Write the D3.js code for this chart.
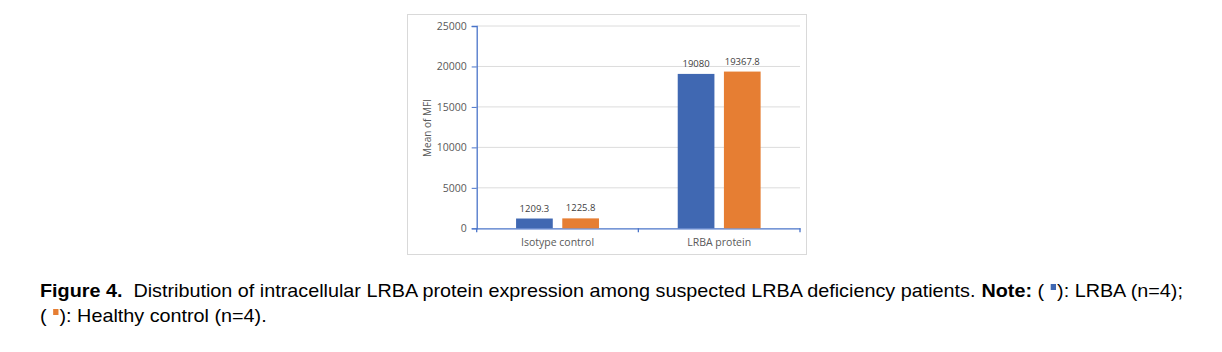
<!DOCTYPE html>
<html>
<head>
<meta charset="utf-8">
<script src="https://cdn.jsdelivr.net/npm/d3@7"></script>
<style>
  body { margin: 0; background: #fff; }
</style>
</head>
<body>
<div id="chart"></div>
<script>
var W = 1222, H = 352;

// data
var categories = ["Isotype control", "LRBA protein"];
var seriesNames = ["LRBA", "Healthy control"];
var lrbaValues = [1209.3, 19080];
var healthyValues = [1225.8, 19367.8];
var valueLabels = [["1209.3", "1225.8"], ["19080", "19367.8"]];
var yTicks = [0, 5000, 10000, 15000, 20000, 25000];
var colors = ["#4068B2", "#E67E33"];

var svg = d3.select("#chart").append("svg")
    .attr("width", W)
    .attr("height", H);

// outer chart frame
svg.append("rect")
    .attr("x", 407.5).attr("y", 14.5)
    .attr("width", 399).attr("height", 240)
    .attr("fill", "#fff")
    .attr("stroke", "#d9d9d9");

var x0 = d3.scaleBand().domain(categories).range([476.7, 800]).paddingInner(0).paddingOuter(0);
var y = d3.scaleLinear().domain([0, 25000]).range([228.3, 26]);
var barW = 36.7, gap = 9.5;
var chartFont = "'Open Sans', sans-serif";

// gridlines
svg.append("g").selectAll("line")
    .data(yTicks.filter(d => d > 0))
    .enter().append("line")
    .attr("x1", 476.7).attr("x2", 800)
    .attr("y1", d => y(d)).attr("y2", d => y(d))
    .attr("stroke", "#dcdcdc").attr("stroke-width", 1);

// y axis
var yAxis = svg.append("g")
    .attr("transform", "translate(476.7,0)")
    .call(d3.axisLeft(y).tickValues(yTicks).tickSize(5).tickPadding(5).tickFormat(d3.format("d")));
yAxis.select(".domain").attr("stroke", "#4A74C9").attr("stroke-width", 1.3);
yAxis.selectAll(".tick line").attr("stroke", "#4A74C9");
yAxis.selectAll("text")
    .attr("fill", "#595959")
    .style("font-family", chartFont)
    .style("font-size", "10.5px");

// x axis
var xAxis = svg.append("g")
    .attr("transform", "translate(0," + y(0) + ")")
    .call(d3.axisBottom(x0).tickSize(0).tickPadding(10));
xAxis.select(".domain").attr("stroke", "#4A74C9").attr("stroke-width", 1.3);
xAxis.selectAll("text")
    .attr("fill", "#595959")
    .style("font-family", chartFont)
    .style("font-size", "10.5px");
svg.append("g").selectAll("line")
    .data([0, 1, 2])
    .enter().append("line")
    .attr("x1", d => x0.range()[0] + d * x0.bandwidth())
    .attr("x2", d => x0.range()[0] + d * x0.bandwidth())
    .attr("y1", y(0)).attr("y2", y(0) + 4)
    .attr("stroke", "#4A74C9").attr("stroke-width", 1.3);

// bars
var barData = [];
categories.forEach(function (c, i) {
    [lrbaValues[i], healthyValues[i]].forEach(function (v, s) {
        barData.push({ cat: c, s: s, v: v, label: valueLabels[i][s] });
    });
});
function barX(d) {
    var center = x0(d.cat) + x0.bandwidth() / 2;
    return d.s == 0 ? center - gap / 2 - barW : center + gap / 2;
}
svg.append("g").selectAll("rect")
    .data(barData)
    .enter().append("rect")
    .attr("x", barX)
    .attr("y", d => y(d.v))
    .attr("width", barW)
    .attr("height", d => y(0) - y(d.v))
    .attr("fill", d => colors[d.s]);

svg.append("g").selectAll("text")
    .data(barData)
    .enter().append("text")
    .attr("x", d => barX(d) + barW / 2)
    .attr("y", d => y(d.v) - 7)
    .attr("text-anchor", "middle")
    .attr("fill", "#404040")
    .style("font-family", chartFont)
    .style("font-size", "9.5px")
    .text(d => d.label);

// y title
svg.append("text")
    .attr("transform", "translate(431,128) rotate(-90)")
    .attr("text-anchor", "middle")
    .attr("fill", "#595959")
    .style("font-family", chartFont)
    .style("font-size", "10px")
    .text("Mean of MFI");

// caption
var capFont = "'Liberation Sans', Arial, sans-serif";
var capSize = 18.6;
var captionLines = [
    [{ t: "Figure 4.", b: true }, { t: "  Distribution of intracellular LRBA protein expression among suspected LRBA deficiency patients. " },
     { t: "Note:", b: true }, { t: " ( " }, { sq: 0 }, { t: "): " + seriesNames[0] + " (n=4);" }],
    [{ t: "( " }, { sq: 1 }, { t: "): " + seriesNames[1] + " (n=4)." }]
];
var lineY = [297, 322];
var cap = svg.append("g");
var lineEnds = [];
captionLines.forEach(function (segs, li) {
    var cx = 0;
    segs.forEach(function (s) {
        if (s.sq !== undefined) {
            cap.append("rect")
                .attr("x", cx + 1).attr("y", lineY[li] - 13)
                .attr("width", 5).attr("height", 6)
                .attr("fill", colors[s.sq]);
            cx += 7;
        } else {
            var t = cap.append("text")
                .attr("x", cx).attr("y", lineY[li])
                .attr("fill", "#000")
                .style("font-family", capFont)
                .style("font-size", capSize + "px")
                .style("font-weight", s.b ? "bold" : "normal")
                .style("white-space", "pre")
                .attr("xml:space", "preserve")
                .text(s.t);
            cx += t.node().getComputedTextLength();
        }
    });
    lineEnds.push(cx);
});
// stretch horizontally so the first line spans 40..1183 like the original
var sx = (1183 - 40) / lineEnds[0];
cap.attr("transform", "translate(40,0) scale(" + sx + ",1)");
</script>
</body>
</html>
